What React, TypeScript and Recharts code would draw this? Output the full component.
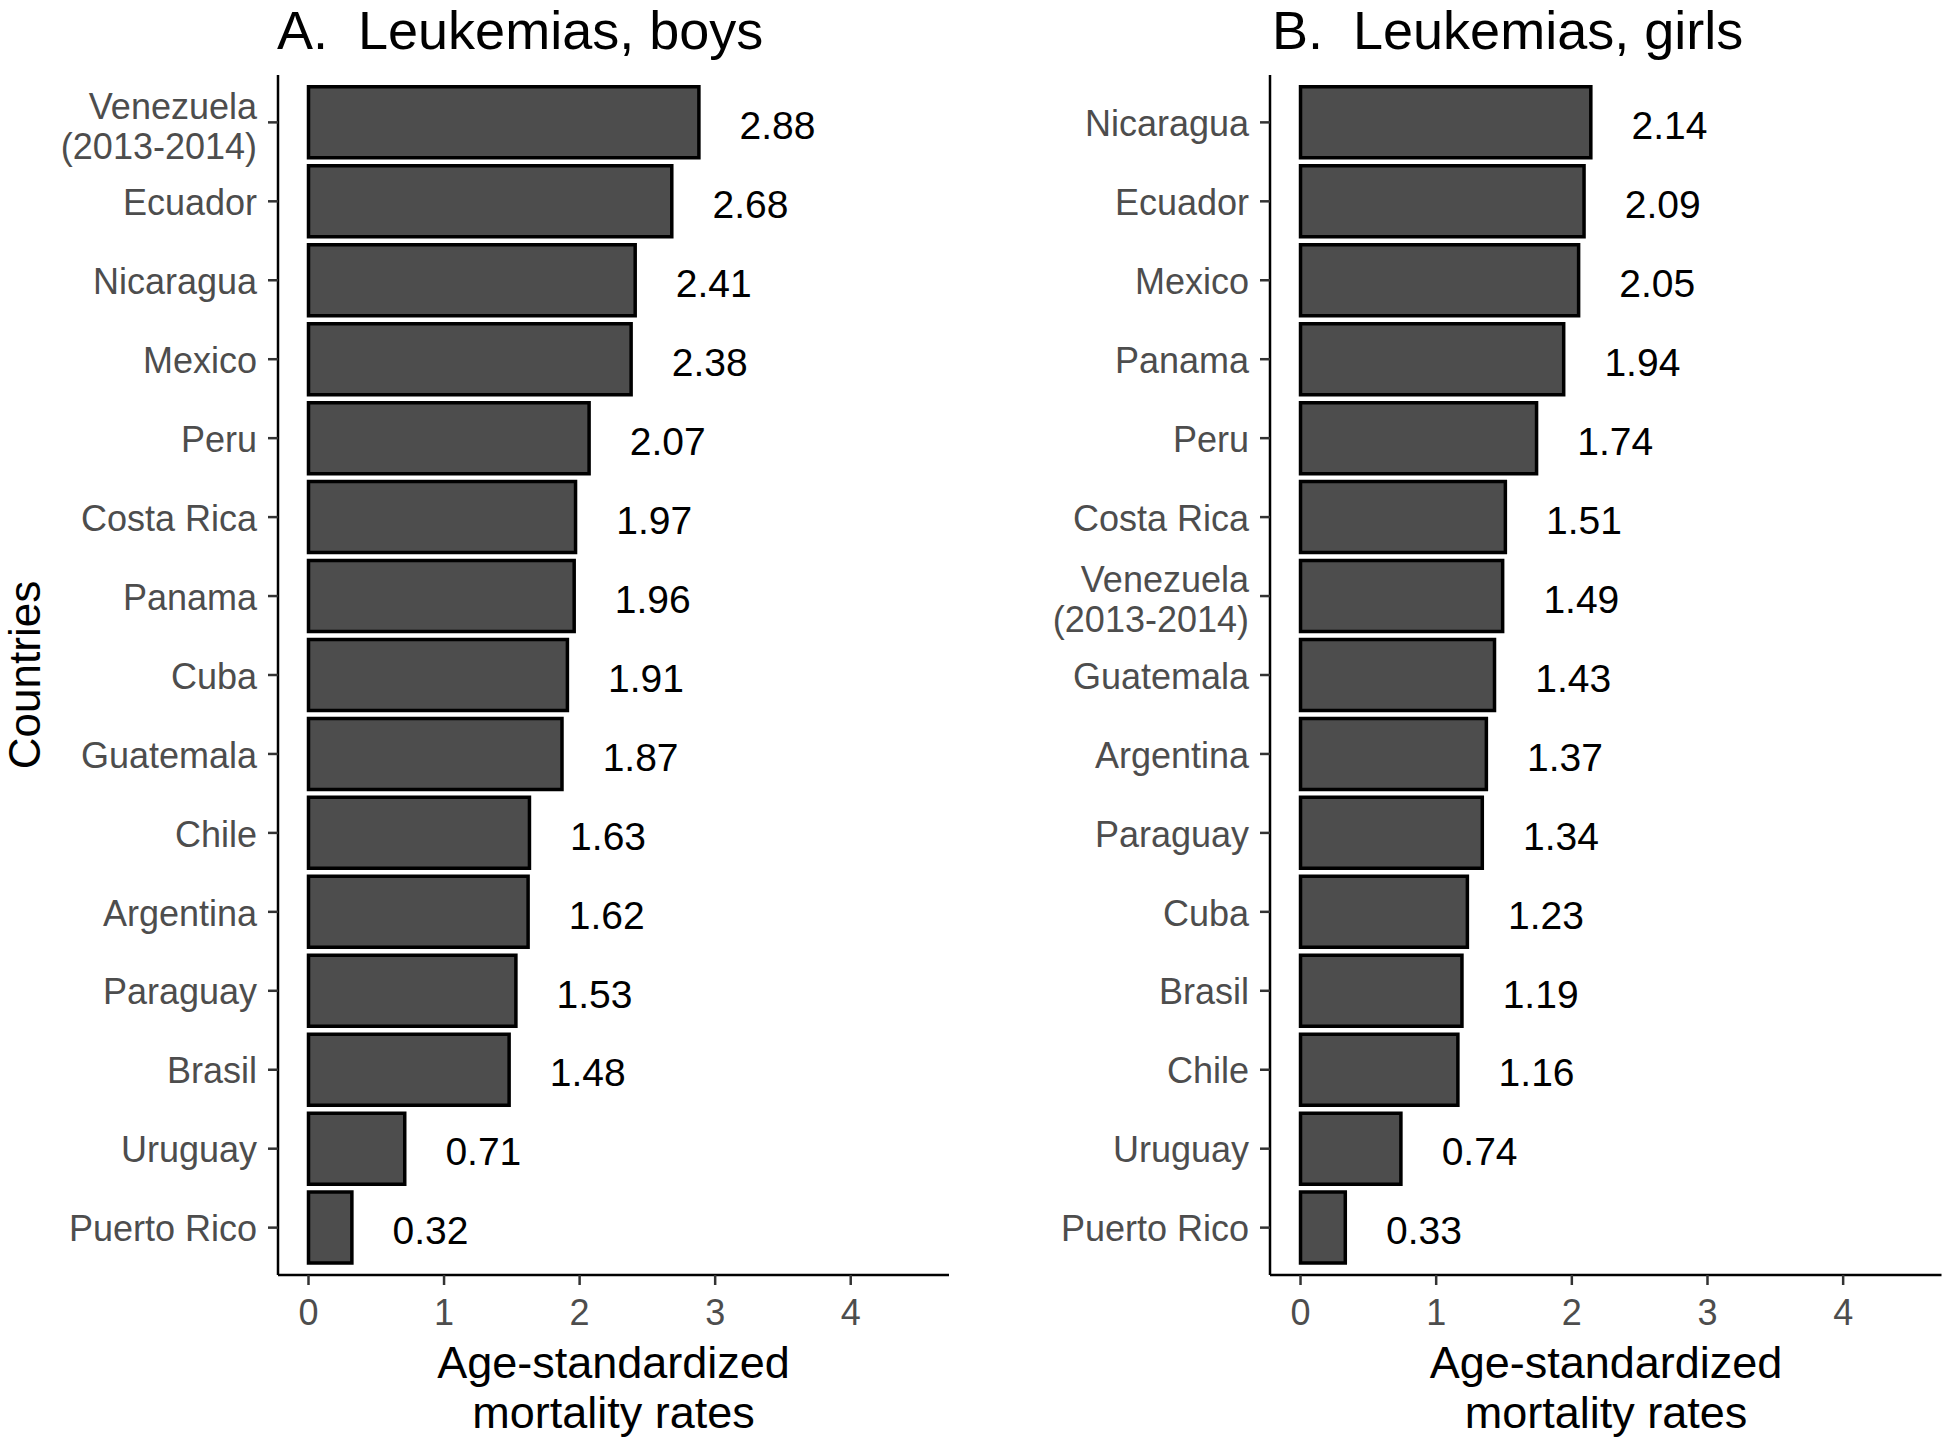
import React from "react";
import { BarChart, Bar, XAxis, YAxis, LabelList } from "recharts";

const boysCountries = [
  "Venezuela\n(2013-2014)",
  "Ecuador",
  "Nicaragua",
  "Mexico",
  "Peru",
  "Costa Rica",
  "Panama",
  "Cuba",
  "Guatemala",
  "Chile",
  "Argentina",
  "Paraguay",
  "Brasil",
  "Uruguay",
  "Puerto Rico",
];
const boysRates = [2.88, 2.68, 2.41, 2.38, 2.07, 1.97, 1.96, 1.91, 1.87, 1.63, 1.62, 1.53, 1.48, 0.71, 0.32];

const girlsCountries = [
  "Nicaragua",
  "Ecuador",
  "Mexico",
  "Panama",
  "Peru",
  "Costa Rica",
  "Venezuela\n(2013-2014)",
  "Guatemala",
  "Argentina",
  "Paraguay",
  "Cuba",
  "Brasil",
  "Chile",
  "Uruguay",
  "Puerto Rico",
];
const girlsRates = [2.14, 2.09, 2.05, 1.94, 1.74, 1.51, 1.49, 1.43, 1.37, 1.34, 1.23, 1.19, 1.16, 0.74, 0.33];

const xTicks = [0, 1, 2, 3, 4];

const FONT = "'Liberation Sans', Arial, Helvetica, sans-serif";

type Row = { country: string; rate: number };

const toRows = (names: string[], vals: number[]): Row[] =>
  names.map((n, i) => ({ country: n, rate: vals[i] }));

const CountryTick = (props: any) => {
  const { x, y, payload } = props;
  const lines = String(payload.value).split("\n");
  const lh = 40;
  // two-line labels sit a little low in the original
  const start = (-(lines.length - 1) * lh) / 2 + (lines.length > 1 ? 2.5 : 0);
  return (
    <text x={x} y={y} textAnchor="end" fill="#4d4d4d" fontSize={36} fontFamily={FONT}>
      {lines.map((l, i) => (
        <tspan key={i} x={x} y={y + start + i * lh} dy="0.38em">
          {l}
        </tspan>
      ))}
    </text>
  );
};

// value label sits a bit to the right of the bar end
const ValueLabel = (props: any) => {
  const { x, y, width, height, value } = props;
  const perUnit = value ? width / value : 0;
  const cx = x + width + 0.58 * perUnit;
  return (
    <text
      x={cx}
      y={y + height / 2}
      dy="0.43em"
      textAnchor="middle"
      fill="#000"
      fontSize={39}
      fontFamily={FONT}
    >
      {Number(value).toFixed(2)}
    </text>
  );
};

interface PanelProps {
  rows: Row[];
  width: number;
  yAxisWidth: number;
  rightMargin: number;
}

const Panel = ({ rows, width, yAxisWidth, rightMargin }: PanelProps) => (
  <BarChart
    width={width}
    height={1439}
    data={rows}
    layout="vertical"
    barCategoryGap="5%"
    margin={{ top: 75, right: rightMargin, bottom: 104, left: 0 }}
  >
    <XAxis
      type="number"
      dataKey="rate"
      domain={[-0.225, 4.725]}
      allowDataOverflow
      ticks={xTicks}
      interval={0}
      height={60}
      tickSize={10}
      tickMargin={14.5}
      axisLine={{ stroke: "#000", strokeWidth: 2.5 }}
      tickLine={{ stroke: "#333", strokeWidth: 2.5 }}
      tick={{ fontSize: 36, fill: "#4d4d4d", fontFamily: FONT }}
    />
    <YAxis
      type="category"
      dataKey="country"
      width={yAxisWidth}
      padding={{ top: 7.9, bottom: 7.9 }}
      interval={0}
      tickSize={10}
      tickMargin={11}
      axisLine={{ stroke: "#000", strokeWidth: 2.5 }}
      tickLine={{ stroke: "#333", strokeWidth: 2.5 }}
      tick={<CountryTick />}
    />
    <Bar dataKey="rate" fill="#4d4d4d" stroke="#000" strokeWidth={3.5} isAnimationActive={false}>
      <LabelList dataKey="rate" content={<ValueLabel />} />
    </Bar>
  </BarChart>
);

const axisTitleStyle: React.CSSProperties = {
  position: "absolute",
  top: 1337.5,
  width: 700,
  textAlign: "center",
  fontFamily: FONT,
  fontSize: 45,
  lineHeight: "50px",
  color: "#000",
};

export default function App() {
  return (
    <div
      style={{
        position: "absolute",
        left: 0,
        top: 0,
        width: 1946,
        height: 1439,
        background: "#fff",
        overflow: "hidden",
      }}
    >
      <div style={{ position: "absolute", left: 0, top: 0 }}>
        <Panel rows={toRows(boysCountries, boysRates)} width={960} yAxisWidth={278} rightMargin={11} />
      </div>
      <div style={{ position: "absolute", left: 960, top: 0 }}>
        <Panel rows={toRows(girlsCountries, girlsRates)} width={986} yAxisWidth={310} rightMargin={4.5} />
      </div>

      <svg width={1946} height={66} style={{ position: "absolute", left: 0, top: 0 }}>
        <text x={277} y={49} fontFamily={FONT} fontSize={54} fill="#000" style={{ whiteSpace: "pre" }}>
          A.  Leukemias, boys
        </text>
        <text x={1272} y={49} fontFamily={FONT} fontSize={54} fill="#000" style={{ whiteSpace: "pre" }}>
          B.  Leukemias, girls
        </text>
      </svg>

      <div style={{ ...axisTitleStyle, left: 613.5 - 350 }}>
        Age-standardized
        <br />
        mortality rates
      </div>
      <div style={{ ...axisTitleStyle, left: 1606 - 350 }}>
        Age-standardized
        <br />
        mortality rates
      </div>

      <svg width={60} height={400} style={{ position: "absolute", left: 0, top: 475 }}>
        <text
          transform="translate(40,200) rotate(-90)"
          textAnchor="middle"
          fontFamily={FONT}
          fontSize={44}
          fill="#000"
        >
          Countries
        </text>
      </svg>
    </div>
  );
}
